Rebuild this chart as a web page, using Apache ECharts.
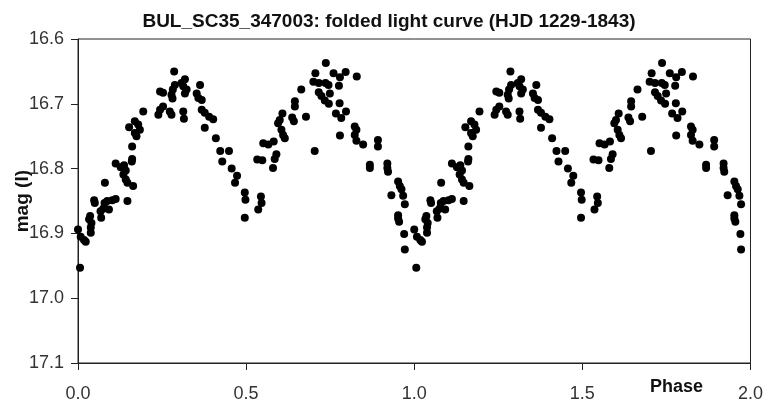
<!DOCTYPE html>
<html>
<head>
<meta charset="utf-8">
<script src="https://cdn.jsdelivr.net/npm/echarts@6/dist/echarts.min.js"></script>
<style>html,body{margin:0;padding:0;background:#fff;}#c{width:766px;height:407px;}</style>
</head>
<body>
<div id="c"></div>
<script>
const titleText = "BUL_SC35_347003: folded light curve (HJD 1229-1843)";
const xTicks = [0, 0.5, 1.0, 1.5, 2.0];
const yTicks = [16.6, 16.7, 16.8, 16.9, 17.0, 17.1];
// one cycle of the folded curve (phase 0-1); plotted twice (phase and phase+1)
const phase = [
0.000,0.008,0.018,0.023,0.006,0.036,0.033,0.040,0.038,0.038,
0.048,0.050,0.069,0.067,0.075,0.092,0.079,0.087,0.102,0.112,
0.080,0.147,0.112,0.127,0.137,0.142,0.135,0.142,0.147,0.164,
0.161,0.160,0.161,0.169,0.179,0.152,0.184,0.169,0.174,0.194,
0.239,0.244,0.253,0.244,0.253,0.273,0.278,0.286,0.288,0.282,
0.278,0.281,0.318,0.308,0.313,0.323,0.318,0.313,0.315,0.363,
0.353,0.358,0.368,0.368,0.377,0.390,0.402,0.377,0.410,0.423,
0.449,0.429,0.457,0.473,0.467,0.496,0.498,0.496,0.544,0.546,
0.536,0.533,0.548,0.551,0.566,0.582,0.590,0.585,0.580,0.600,
0.595,0.608,0.605,0.610,0.615,0.637,0.642,0.645,0.645,0.664,
0.678,0.704,0.737,0.706,0.700,0.716,0.736,0.745,0.760,0.779,
0.796,0.776,0.716,0.724,0.734,0.746,0.749,0.778,0.767,0.783,
0.797,0.779,0.829,0.823,0.828,0.823,0.828,0.848,0.868,0.868,
0.892,0.892,0.920,0.920,0.922,0.952,0.957,0.962,0.932,0.967,
0.972,0.952,0.952,0.955,0.970,0.972
];
const mag = [
16.894,16.905,16.910,16.913,16.953,16.873,16.878,16.884,16.891,16.899,
16.849,16.853,16.876,16.866,16.862,16.863,16.853,16.850,16.849,16.847,
16.822,16.850,16.792,16.798,16.795,16.803,16.809,16.817,16.822,16.827,
16.785,16.789,16.766,16.727,16.732,16.736,16.740,16.745,16.750,16.712,
16.717,16.709,16.704,16.681,16.683,16.712,16.717,16.650,16.671,16.678,
16.686,16.692,16.662,16.668,16.673,16.678,16.684,16.712,16.723,16.671,
16.684,16.691,16.694,16.709,16.714,16.720,16.724,16.737,16.753,16.773,
16.773,16.789,16.800,16.811,16.822,16.837,16.848,16.876,16.843,16.853,
16.863,16.786,16.787,16.761,16.763,16.758,16.778,16.785,16.799,16.725,
16.730,16.715,16.740,16.748,16.753,16.721,16.727,16.696,16.704,16.678,
16.720,16.773,16.637,16.653,16.666,16.668,16.668,16.671,16.653,16.659,
16.651,16.672,16.682,16.688,16.695,16.700,16.684,16.699,16.715,16.722,
16.712,16.749,16.658,16.735,16.740,16.748,16.757,16.763,16.794,16.799,
16.756,16.766,16.792,16.799,16.805,16.820,16.827,16.832,16.841,16.842,
16.855,16.872,16.877,16.882,16.901,16.925
];
const points = phase.map((p, i) => [p, mag[i]]).concat(phase.map((p, i) => [p + 1, mag[i]]));

const FONT = "'Liberation Sans', Arial, sans-serif";
const chart = echarts.init(document.getElementById('c'), null, {renderer: 'canvas'});
chart.setOption({
  animation: false,
  backgroundColor: '#fff',
  title: {
    text: titleText,
    left: 384, top: 7, textAlign: 'center',
    textStyle: {fontFamily: FONT, fontWeight: 'bold', fontSize: 19, color: '#111'}
  },
  grid: {left: 78, right: 15, top: 39, bottom: 44, show: true, borderColor: '#222', borderWidth: 1, backgroundColor: 'transparent'},
  xAxis: {
    type: 'value', min: xTicks[0], max: xTicks[xTicks.length - 1], interval: 0.5,
    axisLine: {lineStyle: {color: '#222', width: 1}},
    axisTick: {show: true, inside: false, length: 7, lineStyle: {color: '#222'}},
    splitLine: {show: false},
    axisLabel: {margin: 22, fontFamily: FONT, fontSize: 18, color: '#333', formatter: v => v.toFixed(1)}
  },
  yAxis: {
    type: 'value', inverse: true, min: yTicks[0], max: yTicks[yTicks.length - 1], interval: 0.1,
    axisLine: {show: true, lineStyle: {color: '#222', width: 1}},
    axisTick: {show: true, inside: false, length: 7, lineStyle: {color: '#222'}},
    splitLine: {show: false},
    axisLabel: {margin: 14, fontFamily: FONT, fontSize: 18, color: '#333', formatter: v => v.toFixed(1)}
  },
  graphic: [
    {type: 'text', left: 13, top: 170, rotation: Math.PI / 2,
     style: {text: 'mag (I)', fontFamily: FONT, fontWeight: 'bold', fontSize: 19, fill: '#111'}},
    {type: 'text', left: 650, top: 378,
     style: {text: 'Phase', fontFamily: FONT, fontWeight: 'bold', fontSize: 18, fill: '#111'}}
  ],
  series: [{
    type: 'scatter', data: points, symbol: 'circle', symbolSize: 8,
    itemStyle: {color: '#000', opacity: 1}, silent: true
  }]
});
</script>
</body>
</html>
